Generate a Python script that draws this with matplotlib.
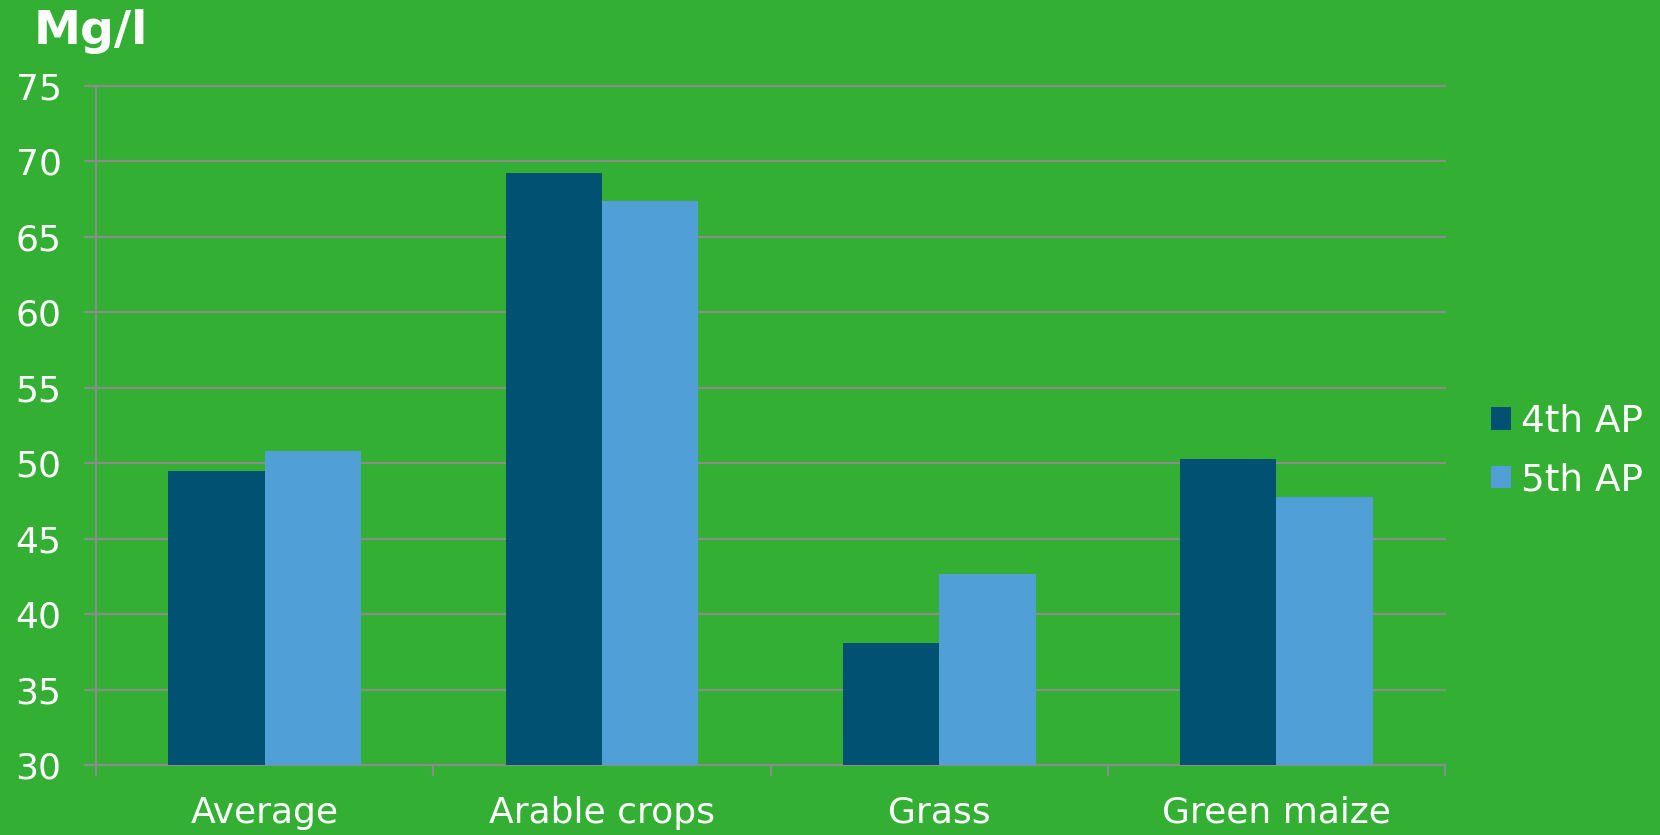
import matplotlib
matplotlib.use("Agg")
import matplotlib.pyplot as plt
import numpy as np

# ==========================================
# DATA
# ==========================================

categories = ["Average", "Arable crops", "Grass", "Green maize"]
ap4 = [49.5, 69.2, 38.1, 50.3]
ap5 = [50.8, 67.4, 42.7, 47.8]
series_names = ["4th AP", "5th AP"]
y_ticks = [30, 35, 40, 45, 50, 55, 60, 65, 70, 75]

# ==========================================
# STYLE
# ==========================================

BG = "#33B034"
DARK = "#005172"
LIGHT = "#519FD7"
GRID = "#8C8C8C"
plt.rcParams["font.family"] = ["DejaVu Sans"]

fig = plt.figure(figsize=(16.6, 8.35), dpi=100, facecolor=BG)
ax = fig.add_axes([0.058, 0.0834, 0.8125, 0.8138])
ax.set_facecolor(BG)

x = np.arange(len(categories))
w = 0.286

b1 = ax.bar(x - w / 2, ap4, width=w, color=DARK, zorder=3, label=series_names[0])
b2 = ax.bar(x + w / 2, ap5, width=w, color=LIGHT, zorder=3, label=series_names[1])

ax.set_ylim(30, 75)
ax.set_xlim(-0.5, len(categories) - 0.5)
ax.set_yticks(y_ticks)
ax.yaxis.grid(True, color=GRID, linewidth=1.5, zorder=0)
for gl in ax.get_ygridlines():
    gl.set_clip_on(False)

# category boundaries as tick marks, labels in the middle
ax.set_xticks(np.arange(-0.5, len(categories), 1.0))
ax.set_xticklabels([])
ax.set_xticks(x, minor=True)
ax.set_xticklabels(categories, minor=True)
ax.tick_params(axis="x", which="major", length=8, width=1.5, color=GRID, direction="out")
ax.tick_params(axis="x", which="minor", length=0, pad=22, labelsize=26, labelcolor="white")
ax.tick_params(axis="y", length=9, width=1.5, color=GRID, pad=16, labelsize=26, labelcolor="white")

for s in ["top", "right"]:
    ax.spines[s].set_visible(False)
for s in ["left", "bottom"]:
    ax.spines[s].set_color(GRID)
    ax.spines[s].set_linewidth(1.5)

fig.text(0.02, 0.962, "Mg/l", color="white", fontsize=34, fontweight="bold", va="center", ha="left")

fig.legend(handles=[b1, b2], loc="center left", bbox_to_anchor=(0.898, 0.46),
           frameon=False, fontsize=27, labelcolor="white", handlelength=0.55,
           handleheight=0.55, handletextpad=0.25, labelspacing=0.6,
           borderpad=0, borderaxespad=0)

plt.savefig("out.png", dpi=100, facecolor=BG)
